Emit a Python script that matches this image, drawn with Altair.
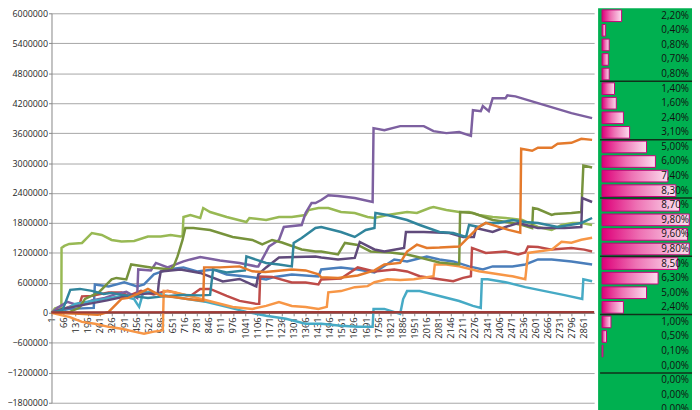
import altair as alt
import pandas as pd

# ---------------- data ----------------
X_TICKS = list(range(1, 2862, 65))          # category labels 1, 66, 131, ... 2861
Y_TICKS = list(range(-1800000, 6000001, 600000))

# series as (x index, value in thousands)
LIGHT_GREEN = [(1, 0), (20, 90), (40, 110), (54, 80), (55, 1300), (70, 1340), (96, 1380), (165, 1400),
               (218, 1600), (271, 1560), (324, 1460), (377, 1430), (445, 1440), (519, 1530), (588, 1530),
               (641, 1560), (694, 1530), (705, 1540), (710, 1920), (747, 1960), (800, 1900), (816, 2100),
               (853, 2020), (942, 1920), (1048, 1820), (1064, 1900), (1154, 1860), (1223, 1920),
               (1292, 1920), (1366, 1960), (1382, 2060), (1435, 2100), (1488, 2100), (1556, 2020),
               (1630, 2000), (1699, 1920), (1736, 1900), (1805, 1960), (1911, 2020), (1964, 2000),
               (2032, 2100), (2053, 2120), (2122, 2060), (2191, 2020), (2244, 2020), (2297, 1960),
               (2371, 1920), (2440, 1900), (2530, 1860), (2614, 1720), (2688, 1660), (2741, 1760),
               (2800, 1800), (2850, 1800), (2905, 1760)]
OLIVE = [(1, 0), (100, 20), (150, 100), (181, 280), (255, 410), (324, 670), (350, 700), (403, 670),
         (429, 970), (482, 940), (535, 910), (641, 870), (657, 930), (678, 1130), (705, 1460), (720, 1700),
         (763, 1700), (853, 1660), (974, 1520), (1080, 1460), (1133, 1370), (1186, 1460), (1239, 1410),
         (1345, 1270), (1419, 1230), (1450, 1230), (1540, 1170), (1577, 1400), (1646, 1360), (1715, 1230),
         (1821, 1210), (1911, 1170), (1979, 1110), (2085, 1010), (2191, 970), (2196, 2020), (2265, 2000),
         (2371, 1860), (2477, 1800), (2530, 1760), (2583, 1700), (2588, 2100), (2614, 2080), (2688, 1960),
         (2704, 1980), (2794, 2000), (2847, 2020), (2858, 2950), (2905, 2910)]
PURPLE = [(1, 0), (33, 100), (86, 220), (154, 140), (218, 250), (287, 300), (350, 380), (403, 420),
          (461, 300), (467, 870), (535, 850), (562, 1000), (625, 910), (710, 1030), (747, 1070), (800, 1120),
          (906, 1050), (1011, 1000), (1101, 930), (1112, 930), (1170, 1330), (1223, 1460), (1249, 1720),
          (1345, 1760), (1366, 2000), (1398, 2200), (1419, 2200), (1450, 2260), (1488, 2356), (1540, 2340),
          (1630, 2300), (1726, 2220), (1731, 3700), (1789, 3660), (1874, 3740), (2001, 3740), (2053, 3640),
          (2122, 3600), (2191, 3620), (2254, 3544), (2265, 4060), (2307, 4040), (2318, 4140), (2350, 4040),
          (2371, 4300), (2440, 4300), (2450, 4356), (2493, 4336), (2614, 4200), (2704, 4100), (2794, 4000),
          (2905, 3900)]
DARK_PURPLE = [(1, 0), (60, 80), (120, 120), (200, 180), (300, 250), (400, 330), (500, 380), (572, 400),
               (578, 620), (588, 830), (694, 870), (800, 800), (921, 630), (1011, 680), (1101, 530),
               (1112, 770), (1154, 910), (1223, 1110), (1313, 1120), (1419, 1130), (1450, 1110),
               (1540, 1070), (1630, 1100), (1657, 1420), (1736, 1270), (1789, 1230), (1895, 1300),
               (1905, 1620), (2001, 1620), (2138, 1600), (2212, 1520), (2270, 1520), (2281, 1700),
               (2371, 1620), (2440, 1720), (2508, 1800), (2614, 1700), (2757, 1700), (2847, 1720),
               (2852, 2300), (2905, 2220)]
TEAL = [(1, 0), (60, 60), (70, 150), (102, 460), (154, 480), (218, 440), (281, 380), (324, 400), (377, 360),
        (450, 330), (519, 300), (600, 330), (700, 360), (800, 350), (853, 360), (869, 870), (942, 810),
        (1040, 850), (1048, 1130), (1154, 1000), (1223, 970), (1292, 930), (1302, 1400), (1345, 1500),
        (1419, 1700), (1450, 1720), (1556, 1620), (1630, 1520), (1689, 1660), (1736, 1700), (1741, 2000),
        (1805, 1960), (1911, 1860), (1979, 1760), (2085, 1620), (2159, 1600), (2228, 1520), (2244, 1760),
        (2297, 1720), (2334, 1800), (2403, 1800), (2477, 1860), (2546, 1820), (2614, 1800), (2720, 1720),
        (2847, 1800), (2905, 1900)]
BLUE = [(1, 0), (60, 50), (100, 80), (228, 100), (234, 570), (308, 530), (392, 610), (461, 530), (498, 570),
        (551, 770), (625, 870), (710, 910), (784, 830), (869, 870), (942, 770), (1048, 730), (1154, 670),
        (1200, 720), (1292, 770), (1435, 730), (1450, 870), (1556, 910), (1646, 870), (1736, 810),
        (1842, 1070), (1911, 1030), (2017, 1130), (2085, 1070), (2159, 1030), (2244, 930), (2318, 870),
        (2371, 930), (2477, 930), (2546, 970), (2614, 1070), (2688, 1070), (2794, 1030), (2905, 970)]
RED = [(1, 0), (40, 60), (80, 100), (128, 160), (154, 200), (165, 330), (218, 340), (308, 410), (377, 410),
       (414, 340), (482, 440), (550, 370), (625, 440), (700, 370), (747, 340), (800, 480), (853, 480),
       (942, 340), (1011, 240), (1101, 180), (1117, 180), (1122, 730), (1186, 720), (1292, 610), (1366, 610),
       (1435, 570), (1450, 670), (1556, 690), (1646, 910), (1736, 830), (1842, 870), (1911, 830), (1979, 733),
       (2085, 673), (2159, 634), (2212, 700), (2254, 733), (2260, 1300), (2334, 1200), (2440, 1230),
       (2508, 1170), (2546, 1208), (2561, 1330), (2614, 1320), (2688, 1267), (2794, 1300), (2863, 1267),
       (2905, 1230)]
LIGHT_ORANGE = [(1, 0), (70, -60), (96, -80), (165, -180), (234, -218), (308, -280), (377, -317), (445, -376),
                (498, -416), (551, -376), (593, -356), (599, -340), (604, 440), (657, 416), (763, 317),
                (869, 218), (974, 119), (1080, 79), (1154, 139), (1223, 218), (1292, 139), (1366, 119),
                (1435, 79), (1480, 120), (1488, 410), (1556, 436), (1630, 515), (1699, 535), (1736, 614),
                (1805, 673), (1874, 660), (1948, 673), (2053, 733), (2060, 970), (2122, 970), (2191, 931),
                (2297, 832), (2403, 772), (2477, 733), (2546, 673), (2561, 1200), (2614, 1228), (2688, 1267),
                (2741, 1426), (2794, 1406), (2847, 1465), (2905, 1505)]
DARK_ORANGE = [(1, 0), (150, -20), (250, -40), (271, -20), (308, 20), (377, 280), (414, 300), (482, 410),
               (519, 480), (588, 340), (657, 317), (731, 277), (816, 238), (821, 911), (906, 911),
               (1011, 931), (1080, 832), (1150, 820), (1292, 870), (1366, 850), (1435, 772), (1450, 713),
               (1540, 700), (1646, 750), (1736, 850), (1789, 970), (1874, 1000), (1911, 1228), (1964, 1366),
               (2017, 1300), (2085, 1307), (2191, 1327), (2244, 1525), (2297, 1723), (2334, 1802),
               (2403, 1723), (2456, 1663), (2519, 1604), (2524, 3287), (2583, 3247), (2614, 3307),
               (2688, 3307), (2720, 3386), (2794, 3406), (2847, 3485), (2905, 3465)]
AQUA = [(1, 0), (60, 60), (102, 120), (128, 180), (218, 238), (287, 277), (377, 337), (445, 277), (461, 180),
        (472, 120), (493, 400), (535, 416), (625, 337), (731, 277), (837, 218), (942, 119), (1048, 20),
        (1154, -59), (1260, -119), (1366, -218), (1450, -218), (1556, -257), (1646, -277), (1726, -277),
        (1731, 79), (1789, 79), (1874, -20), (1890, 277), (1911, 436), (1979, 436), (2085, 337), (2191, 238),
        (2265, 139), (2307, 99), (2313, 673), (2344, 673), (2440, 614), (2546, 515), (2651, 436), (2757, 356),
        (2852, 277), (2858, 673), (2905, 634)]
DARK_RED = [(1, 10), (2916, 15)]

SERIES = [
    ("s1", BLUE, "#4A7EBB"),
    ("s2", RED, "#BE4B48"),
    ("s3", LIGHT_GREEN, "#98B954"),
    ("s4", PURPLE, "#7D60A0"),
    ("s5", AQUA, "#46AAC5"),
    ("s6", LIGHT_ORANGE, "#F79646"),
    ("s7", OLIVE, "#77933C"),
    ("s8", DARK_PURPLE, "#604A7B"),
    ("s9", TEAL, "#31859C"),
    ("s10", DARK_ORANGE, "#E47A2C"),
    ("s11", DARK_RED, "#9E3B38"),
]

# right-hand table of percentages (data bars)
PCT = [2.2, 0.4, 0.8, 0.7, 0.8, 1.4, 1.6, 2.4, 3.1, 5.0, 6.0, 7.4, 8.3, 8.7,
       9.8, 9.6, 9.8, 8.5, 6.3, 5.0, 2.4, 1.0, 0.5, 0.1, 0.0, 0.0, 0.0, 0.0]
SEPARATORS = [4.5, 8.5, 12.5, 16.5, 20.5, 24.5]

# ---------------- tables ----------------
rows = []
for name, pts, _ in SERIES:
    for i, (x, y) in enumerate(pts):
        rows.append({"s": name, "i": i, "x": x, "y": y * 1000})
lines_df = pd.DataFrame(rows)

panel_df = pd.DataFrame({
    "row": list(range(len(PCT))),
    "v": PCT,
    "label": [f"{v:.2f}".replace(".", ",") + "%" for v in PCT],
})
sep_df = pd.DataFrame({"b": SEPARATORS})

FONT = "Open Sans"

# ---------------- line chart ----------------
lines = alt.Chart(lines_df).mark_line(strokeWidth=2.5).encode(
    x=alt.X("x:Q", scale=alt.Scale(domain=[1, 2916], nice=False, zero=False),
            axis=alt.Axis(values=X_TICKS, format="d", labelAngle=-90, labelFontSize=9.5, labelFont=FONT,
                          labelColor="#262626", labelOverlap=False, labelFlush=False,
                          labelPadding=1, tickSize=3, tickColor="#868686", domainColor="#868686",
                          grid=False, title=None, offset=-90.9)),
    y=alt.Y("y:Q", scale=alt.Scale(domain=[-1800000, 6000000], nice=False),
            axis=alt.Axis(values=Y_TICKS, format="d", labelFontSize=9, labelFont=FONT,
                          labelColor="#262626", labelPadding=1, tickSize=3, tickColor="#868686",
                          domainColor="#868686", gridColor="#A6A6A6", gridWidth=1, title=None,
                          labelFlush=False)),
    color=alt.Color("s:N", scale=alt.Scale(domain=[s[0] for s in SERIES], range=[s[2] for s in SERIES]),
                    legend=None),
    order=alt.Order("i:Q"),
)

# ---------------- right panel ----------------
xs = alt.Scale(domain=[0, 10], range=[557, 647], zero=True, nice=False)
ys = alt.Scale(domain=[-0.5, 27.5], range=[-4.9, 408.1], nice=False, zero=False)

green = alt.Chart(alt.Data(values=[{"a": 1}])).mark_rect(color="#00B050").encode(
    x=alt.value(553), x2=alt.value(660), y=alt.value(-5), y2=alt.value(405)
)

grad = alt.LinearGradient(
    gradient="linear",
    stops=[alt.GradientStop(color="#DE0079", offset=0),
           alt.GradientStop(color="#EE72B4", offset=0.45),
           alt.GradientStop(color="#FBDDEE", offset=1)],
    x1=0, x2=1, y1=0, y2=0,
)
bars = alt.Chart(panel_df).transform_filter("datum.v > 0").transform_calculate(
    x0="0", lo="datum.row - 0.4", hi="datum.row + 0.4"
).mark_rect(fill=grad, stroke="#C8007A", strokeWidth=1).encode(
    x=alt.X("x0:Q", scale=xs, axis=None),
    x2="v:Q",
    y=alt.Y("lo:Q", scale=ys, axis=None),
    y2="hi:Q",
)

seps = alt.Chart(sep_df).mark_rule(color="#10301A", strokeWidth=1.5).encode(
    x=alt.value(555), x2=alt.value(660),
    y=alt.Y("b:Q", scale=ys, axis=None),
)

texts = alt.Chart(panel_df).mark_text(align="right", baseline="middle", font=FONT, fontSize=10,
                                       color="#111111").encode(
    x=alt.value(645),
    y=alt.Y("row:Q", scale=ys, axis=None),
    text="label:N",
)

panel = alt.layer(green, bars, seps, texts)

chart = alt.layer(lines, panel).resolve_scale(x="independent", y="independent").properties(
    width=549, height=394,
    padding={"left": 44, "top": 3, "right": 99, "bottom": 5},
    autosize=alt.AutoSizeParams(type="none"),
    background="white",
).configure_view(strokeWidth=0)

chart.save("out.html", embed_options={"renderer": "svg", "actions": False})
